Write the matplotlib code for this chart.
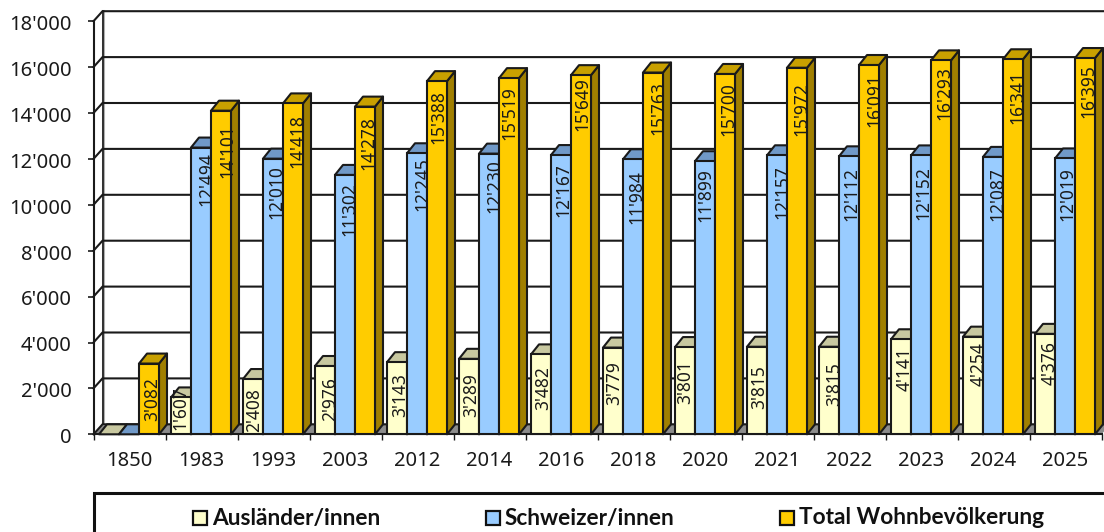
import matplotlib
matplotlib.use("Agg")
import matplotlib.pyplot as plt
from matplotlib.patches import Polygon, Rectangle
from matplotlib.transforms import ScaledTranslation

plt.rcParams['font.family'] = ['Noto Sans', 'DejaVu Sans']

years = ["1850", "1983", "1993", "2003", "2012", "2014", "2016", "2018", "2020", "2021", "2022", "2023", "2024", "2025"]
auslaender = [0, 1607, 2408, 2976, 3143, 3289, 3482, 3779, 3801, 3815, 3815, 4141, 4254, 4376]
schweizer = [0, 12494, 12010, 11302, 12245, 12230, 12167, 11984, 11899, 12157, 12112, 12152, 12087, 12019]
total = [3082, 14101, 14418, 14278, 15388, 15519, 15649, 15763, 15700, 15972, 16091, 16293, 16341, 16395]
series_names = ["Ausländer/innen", "Schweizer/innen", "Total Wohnbevölkerung"]
y_ticks = [0, 2000, 4000, 6000, 8000, 10000, 12000, 14000, 16000, 18000]

# where the old chart put its labels, pixels from the top centre of each bar
aus_dx = [0, -2, 0, 4, 2, 1, 1, 0, -1, 1, 4, 2, 4, 3]
aus_dy = [0, 11, 31, 33, 33, 36, 34, 35, 35, 40, 37, 30, 27, 29]
sch_dx = [0, 4, 2, 3, 4, 4, 1, 2, -1, 4, 1, 1, 3, 1]
sch_dy = [0, 31, 33, 34, 31, 32, 35, 38, 34, 37, 38, 38, 37, 36]
tot_dx = [2, 5, 3, 2, 0, -1, 0, 4, 2, 3, 4, 2, 3, 2]
tot_dy = [35, 40, 38, 36, 36, 35, 29, 36, 35, 41, 35, 33, 38, 33]

# front, top and side colours of each series
colors = [("#FFFFCC", "#C8C8A0", "#A0A080"),
          ("#99CCFF", "#7099C8", "#5A7AA0"),
          ("#FFCC00", "#C8A000", "#A07F00")]

W, H = 1104, 532
LINE = "#1a1a1a"
BAR_W = 20 / 72
GAP = 5.5 / 72
WALL_DX = 9 / 72     # depth of the walls in category units
WALL_DY = 10 / 0.02295
BAR_DX = 8 / 72
BAR_DY = 10 / 0.02295


def fmt(v):
    return "{:,}".format(v).replace(",", "'")


fig = plt.figure(figsize=(W / 100, H / 100), dpi=100)
ax = fig.add_axes([93.5 / W, 1 - 434.3 / H, 1008 / W, 413.1 / H])
n = len(years)
ax.set_xlim(0, n)
ax.set_ylim(0, 18000)
for s in ax.spines.values():
    s.set_visible(False)
ax.patch.set_visible(False)

# floor and walls
ax.add_patch(Polygon([(0, 0), (n, 0), (n + WALL_DX, WALL_DY), (WALL_DX, WALL_DY)],
                     fc="#8c8c8c", ec="none", clip_on=False, zorder=1))
ax.plot([WALL_DX + 0.012] * 2, [WALL_DY, 18000 + WALL_DY], color="#b0b0b0", lw=2.2, clip_on=False, zorder=1)
for v in y_ticks:
    ax.plot([0, WALL_DX, n + WALL_DX], [v, v + WALL_DY, v + WALL_DY], color=LINE, lw=1.5,
            clip_on=False, zorder=2, solid_joinstyle="miter")
ax.plot([WALL_DX] * 2, [WALL_DY, 18000 + WALL_DY], color=LINE, lw=1.2, clip_on=False, zorder=2)
ax.plot([0, 0], [0, 18000], color=LINE, lw=1.5, clip_on=False, zorder=2)
ax.plot([0, n], [0, 0], color=LINE, lw=1.5, clip_on=False, zorder=2)

# bars, each one painted over the label of its left neighbour
all_series = [auslaender, schweizer, total]
all_dx = [aus_dx, sch_dx, tot_dx]
all_dy = [aus_dy, sch_dy, tot_dy]
z = 3
for i in range(n):
    for k, vals in enumerate(all_series):
        v = vals[i]
        x0 = i + GAP + k * BAR_W
        x1 = x0 + BAR_W
        front, top, side = colors[k]
        edge = dict(ec=LINE, lw=1.5, clip_on=False, joinstyle="round")
        ax.add_patch(Polygon([(x1, 0), (x1 + BAR_DX, BAR_DY), (x1 + BAR_DX, v + BAR_DY), (x1, v)],
                             fc=side, zorder=z, **edge))
        ax.add_patch(Polygon([(x0, v), (x1, v), (x1 + BAR_DX, v + BAR_DY), (x0 + BAR_DX, v + BAR_DY)],
                             fc=top, zorder=z, **edge))
        if v > 0:
            ax.bar(x0, v, BAR_W, align="edge", color=front, edgecolor=LINE, linewidth=1.5,
                   zorder=z + 0.2, clip_on=False)
            ax.annotate(fmt(v), (x0 + BAR_W / 2, v),
                        xytext=((all_dx[k][i] + 1.5) * 0.72, -all_dy[k][i] * 0.72), textcoords="offset points",
                        rotation=90, ha="center", va="center", fontsize=12.5, color="#1a1a1a", zorder=z + 0.4)
        z += 1

ax.set_yticks(y_ticks)
ax.set_yticklabels([fmt(v) for v in y_ticks], fontsize=14.5, color="#1a1a1a")
ax.set_xticks(range(n + 1))
ax.set_xticklabels([])
ax.set_xticks([i + 0.5 for i in range(n)], minor=True)
ax.set_xticklabels(years, minor=True, fontsize=14.5, color="#1a1a1a")
ax.tick_params(axis="y", length=4.5, width=1.2, color=LINE, pad=11)
ax.tick_params(axis="x", which="major", length=4.5, width=1, color=LINE)
ax.tick_params(axis="x", which="minor", length=0, pad=12)
shift = ScaledTranslation(0, -1 / 72, fig.dpi_scale_trans)
for t in ax.get_yticklabels():
    t.set_transform(t.get_transform() + shift)


# legend box runs off the figure on the right and at the bottom
def fig_xy(x, y):
    return x / W, 1 - y / H


fig.add_artist(Rectangle(fig_xy(93.5, 545), 1100 / W, 52.5 / H, transform=fig.transFigure,
                         fc="white", ec="#111111", lw=2.2))
legend_x = [193, 486, 780]
for name, lx, c in zip(series_names, legend_x, colors):
    fig.add_artist(Rectangle(fig_xy(lx, 525), 14 / W, 14 / H, transform=fig.transFigure,
                             fc=c[0], ec="#111111", lw=1.6))
    fig.text(*fig_xy(lx + 19, 518), name, family="Lato", fontsize=16.3, fontweight="bold",
             color="#111111", va="center", ha="left")

fig.savefig("out.png", dpi=100)
